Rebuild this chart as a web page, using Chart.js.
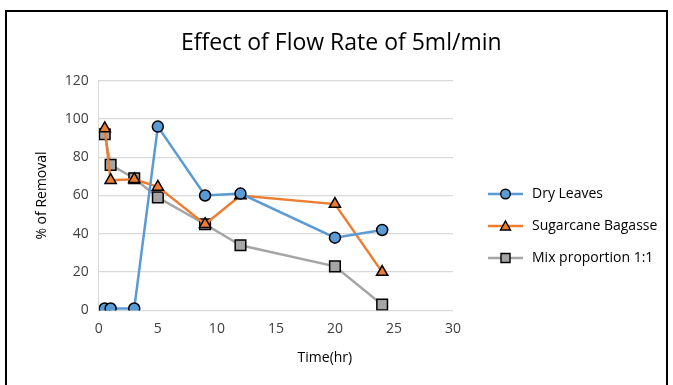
<!DOCTYPE html>
<html>
<head>
<meta charset="utf-8">
<script src="https://cdn.jsdelivr.net/npm/chart.js@4"></script>
<style>
    html, body { margin: 0; padding: 0; background: #fff; }
    #frame {
        position: absolute;
        left: 5px;
        top: 10px;
        width: 663px;
        height: 390px;
        border: 2px solid #000;
        box-sizing: border-box;
    }
    #wrap { position: absolute; left: 0; top: 0; width: 659px; height: 386px; }
</style>
</head>
<body>
<div id="frame"><div id="wrap"><canvas id="chart"></canvas></div></div>
<script>
(function () {
    'use strict';

    var times = [0.5, 1, 3, 5, 9, 12, 20, 24];
    var dryLeaves = [1, 1, 1, 96, 60, 61, 38, 42];
    var sugarcane = [95, 68, 68.5, 64.5, 45, 60, 55.5, 20];
    var mixOneOne = [92, 76, 69, 59, 45, 34, 23, 3];
    var seriesNames = ['Dry Leaves', 'Sugarcane Bagasse', 'Mix proportion 1:1'];
    var yTicks = [0, 20, 40, 60, 80, 100, 120];
    var xTicks = [0, 5, 10, 15, 20, 25, 30];

    var colors = ['#5B9BD5', '#ED7D31', '#A5A5A5'];
    var markers = ['circle', 'triangle', 'rect'];
    var radii = [5.5, 6.5, 7.5];
    var FONT = 'Open Sans';
    var GLYPH_W = 54;
    var LEGEND_W = 211;

    function points(ys) {
        return ys.map(function (y, i) { return {x: times[i], y: y}; });
    }

    // legend glyph: small gap on the left, then line with the marker in the middle
    function legendGlyph(color, marker) {
        var c = document.createElement('canvas');
        c.width = GLYPH_W; c.height = 14;
        var g = c.getContext('2d');
        var x0 = 17, x1 = GLYPH_W - 2, mid = (x0 + x1) / 2;
        g.strokeStyle = color;
        g.lineWidth = 2.5;
        g.beginPath();
        g.moveTo(x0, 7); g.lineTo(x1, 7);
        g.stroke();
        g.fillStyle = color;
        g.strokeStyle = '#000';
        g.lineWidth = 1.4;
        g.beginPath();
        if (marker === 'circle') {
            g.arc(mid, 7, 4.8, 0, Math.PI * 2);
        } else if (marker === 'triangle') {
            g.moveTo(mid, 2); g.lineTo(mid + 5, 11); g.lineTo(mid - 5, 11); g.closePath();
        } else {
            g.rect(mid - 4.5, 2.5, 9, 9);
        }
        g.fill();
        g.stroke();
        return c;
    }

    // fixed legend width, so the wide glyphs are not clipped
    var legendWidth = {
        id: 'legendWidth',
        afterInit: function (chart) {
            var legend = chart.legend;
            var fit = legend.fit;
            legend.fit = function () {
                fit.call(this);
                this.width = LEGEND_W;
            };
        }
    };

    var data = [dryLeaves, sugarcane, mixOneOne];

    new Chart(document.getElementById('chart'), {
        type: 'scatter',
        data: {
            datasets: data.map(function (ys, i) {
                return {
                    label: seriesNames[i],
                    data: points(ys),
                    showLine: true,
                    borderColor: colors[i],
                    backgroundColor: colors[i],
                    borderWidth: 2.5,
                    pointStyle: markers[i],
                    pointRadius: radii[i],
                    pointBorderColor: '#000',
                    pointBorderWidth: 1.5,
                    pointBackgroundColor: colors[i]
                };
            })
        },
        plugins: [legendWidth],
        options: {
            responsive: true,
            maintainAspectRatio: false,
            animation: false,
            layout: {padding: {left: 23, right: 2, top: 6, bottom: 28}},
            plugins: {
                title: {
                    display: true,
                    text: 'Effect of Flow Rate of 5ml/min\u2002',
                    color: '#000',
                    font: {family: FONT, size: 23, weight: 'normal'},
                    padding: {top: 12, bottom: 23}
                },
                tooltip: {enabled: false},
                legend: {
                    position: 'right',
                    title: {
                        display: true,
                        text: ' ',
                        font: {size: 10},
                        padding: {top: 0, bottom: 52}
                    },
                    labels: {
                        color: '#000',
                        font: {family: FONT, size: 14},
                        usePointStyle: true,
                        pointStyleWidth: GLYPH_W,
                        padding: 18,
                        generateLabels: function (chart) {
                            return chart.data.datasets.map(function (ds, i) {
                                return {
                                    text: ds.label,
                                    pointStyle: legendGlyph(colors[i], markers[i]),
                                    fontColor: '#000',
                                    datasetIndex: i,
                                    lineWidth: 0
                                };
                            });
                        }
                    }
                }
            },
            scales: {
                x: {
                    type: 'linear',
                    min: 0,
                    max: 30,
                    afterBuildTicks: function (axis) {
                        axis.ticks = xTicks.map(function (v) { return {value: v}; });
                    },
                    grid: {display: false, drawTicks: false},
                    border: {display: false},
                    ticks: {color: '#404040', font: {family: FONT, size: 14}, padding: 10},
                    title: {
                        display: true,
                        text: '\u2002\u2002\u2002\u2002\u2002\u2002\u2002\u2002\u2002\u2002\u2002\u2002\u2002\u2002Time(hr)',
                        color: '#000',
                        font: {family: FONT, size: 14},
                        padding: {top: 2}
                    }
                },
                y: {
                    min: 0,
                    max: 120,
                    afterBuildTicks: function (axis) {
                        axis.ticks = yTicks.map(function (v) { return {value: v}; });
                    },
                    grid: {color: '#D9D9D9', lineWidth: 1.3, drawTicks: false},
                    border: {display: true, color: '#D9D9D9'},
                    ticks: {color: '#404040', font: {family: FONT, size: 14}, padding: 10},
                    title: {
                        display: true,
                        text: '% of Removal',
                        color: '#000',
                        font: {family: FONT, size: 14},
                        padding: {bottom: 4}
                    }
                }
            }
        }
    });
})();
</script>
</body>
</html>
